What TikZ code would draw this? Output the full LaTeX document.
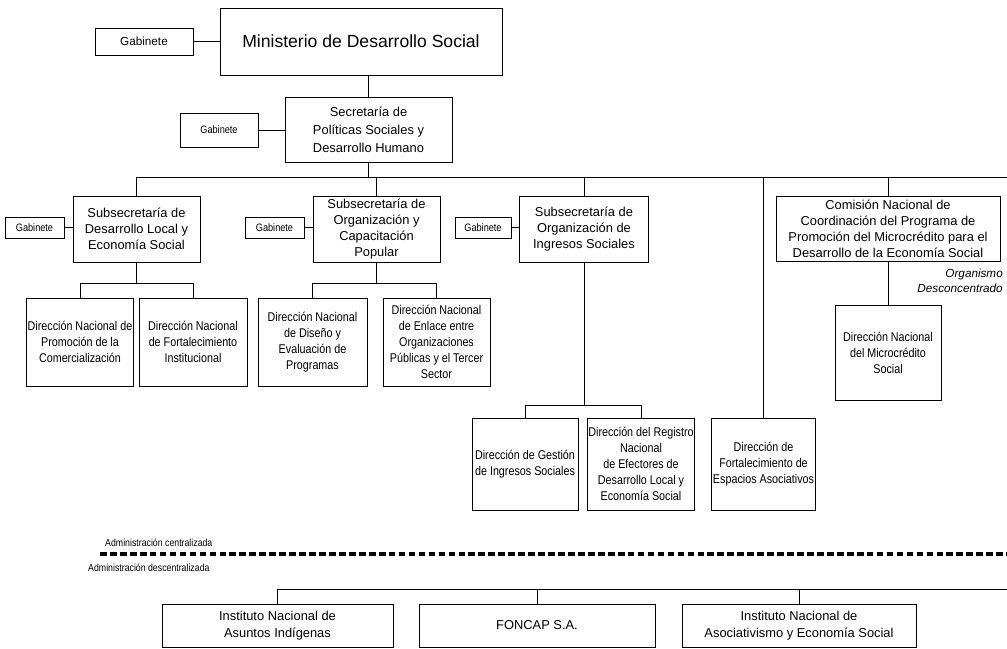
\documentclass[tikz,border=0pt]{standalone}
\usepackage{fontspec}
\setmainfont{Liberation Sans}
\newfontfamily\narrowfont[FakeStretch=0.85]{Liberation Sans}
\usetikzlibrary{positioning}

\begin{document}
\begin{tikzpicture}[
    x=0.03cm, y=-0.03cm,
    box/.style={draw, rectangle, align=center, inner sep=1pt, line width=0.8pt},
    gabinete/.style={box, font=\narrowfont\fontsize{9.2}{11}\selectfont, minimum width=1.77cm, minimum height=0.63cm},
    subsec/.style={box, font=\fontsize{11}{13.6}\selectfont, minimum width=3.81cm, minimum height=1.98cm},
    direccion/.style={box, font=\narrowfont\fontsize{10.8}{13.6}\selectfont, minimum width=3.18cm, minimum height=2.64cm},
    instituto/.style={box, font=\fontsize{11}{14}\selectfont, minimum width=7cm, minimum height=1.29cm},
    link/.style={line width=0.8pt},
    divisor/.style={line width=2.8pt, dash pattern=on 5.7pt off 2.8pt},
    nota/.style={font=\narrowfont\fontsize{8.8}{10}\selectfont, anchor=west, inner sep=0pt}
]
\useasboundingbox (0,0) rectangle (1007,649);

% Top levels
\node[box, font=\fontsize{15}{18}\selectfont, minimum width=8.46cm, minimum height=2.01cm] (min) at (361,41.5) {Ministerio de Desarrollo Social};
\node[box, font=\fontsize{10}{12}\selectfont, minimum width=2.94cm, minimum height=0.81cm] (gab0) at (144,41.5) {Gabinete};
\node[box, font=\fontsize{11}{15.3}\selectfont, minimum width=5.01cm, minimum height=1.95cm] (sec) at (368.5,129.5) {Secretaría de\\Políticas Sociales y\\Desarrollo Humano};
\node[gabinete, minimum width=2.34cm, minimum height=1.02cm] (gab1) at (219,130) {Gabinete};

% Subsecretarias
\node[subsec] (sub1) at (136.5,229) {Subsecretaría de\\Desarrollo Local y\\Economía Social};
\node[subsec] (sub2) at (376.5,229) {Subsecretaría de\\Organización y\\Capacitación\\Popular};
\node[subsec, minimum width=3.87cm] (sub3) at (584,229) {Subsecretaría de\\Organización de\\Ingresos Sociales};
\node[box, font=\fontsize{11}{13.6}\selectfont, minimum width=6.72cm, minimum height=1.95cm] (com) at (888,228.5) {Comisión Nacional de\\Coordinación del Programa de\\Promoción del Microcrédito para el\\Desarrollo de la Economía Social};
\node[font=\itshape\fontsize{10}{12.8}\selectfont, align=right, anchor=east, inner sep=0pt] (org) at (1003,281) {Organismo\\Desconcentrado};
\node[gabinete] (gab2) at (34.5,227.5) {Gabinete};
\node[gabinete] (gab3) at (274.5,227.5) {Gabinete};
\node[gabinete, minimum width=1.68cm] (gab4) at (483,227.5) {Gabinete};

% Direcciones
\node[direccion] (dnpro) at (80,342) {Dirección Nacional de\\Promoción de la\\Comercialización};
\node[direccion, minimum width=3.24cm] (dnfor) at (193,342) {Dirección Nacional\\de Fortalecimiento\\Institucional};
\node[direccion, minimum width=3.27cm] (dndis) at (312.5,342) {Dirección Nacional\\de Diseño y\\Evaluación de\\Programas};
\node[direccion, minimum width=3.21cm] (dnenl) at (436.5,342) {Dirección Nacional\\de Enlace entre\\Organizaciones\\Públicas y el Tercer\\Sector};
\node[direccion, minimum height=2.85cm] (micro) at (888,352.5) {Dirección Nacional\\del Microcrédito\\Social};
\node[direccion, minimum height=2.76cm] (dgest) at (525,464) {Dirección de Gestión\\de Ingresos Sociales};
\node[direccion, minimum width=3.06cm, minimum height=2.76cm] (dreg) at (641,464) {Dirección del Registro\\Nacional\\de Efectores de\\Desarrollo Local y\\Economía Social};
\node[direccion, minimum width=3.09cm, minimum height=2.76cm] (desp) at (763.5,464) {Dirección de\\Fortalecimiento de\\Espacios Asociativos};

% Descentralizada
\node[nota] (centr) at (105,543) {Administración centralizada};
\node[nota] (descentr) at (88,568) {Administración descentralizada};
\node[instituto, minimum width=6.93cm] (inai) at (277.5,625.5) {Instituto Nacional de\\Asuntos Indígenas};
\node[instituto, minimum width=7.08cm] (foncap) at (537,625.5) {FONCAP S.A.};
\node[instituto, minimum width=7.02cm] (inaes) at (799,625.5) {Instituto Nacional de\\Asociativismo y Economía Social};

% Connections
\coordinate (busR) at (1007,177);
\coordinate (busB) at (1007,589);
\coordinate (divL) at (100,554);
\coordinate (divR) at (1007,554);
\draw[link] (gab0) -- (min);
\draw[link] (gab1.east) -- (gab1.east -| sec.west);
\draw[link] (sec.north) -- (sec.north |- min.south);
\draw[link] (sub1.north) |- (busR);
\foreach \n in {sec.south, sub2.north, sub3.north, desp.north, com.north}
    \draw[link] (\n) -- (\n |- busR);
\foreach \g/\s in {gab2/sub1, gab3/sub2, gab4/sub3}
    \draw[link] (\g) -- (\g -| \s.west);
\draw[link] (sub1.south) -- ++(0,21) coordinate (j1);
\draw[link] (dnpro.north) |- (j1) -| (dnfor.north);
\draw[link] (sub2.south) -- ++(0,21) coordinate (j2);
\draw[link] (dndis.north) |- (j2) -| (dnenl.north);
\draw[link] (sub3.south) -- ++(0,143) coordinate (j3);
\draw[link] (dgest.north) |- (j3) -| (dreg.north);
\draw[link] (com.south) -- (micro.north);
\draw[divisor] (divL) -- (divR);
\draw[link] (inai.north) |- (busB);
\draw[link] (foncap.north) -- (foncap.north |- busB);
\draw[link] (inaes.north) -- (inaes.north |- busB);

\end{tikzpicture}
\end{document}
